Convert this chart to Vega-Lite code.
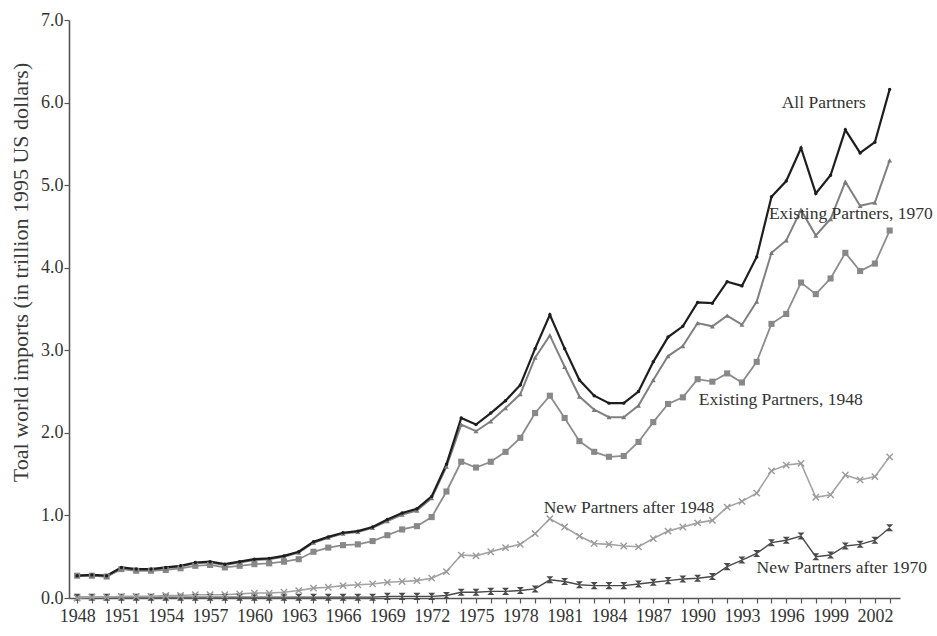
{
  "$schema": "https://vega.github.io/schema/vega-lite/v6.json",
  "width": 831,
  "height": 578,
  "autosize": {"type": "none"},
  "padding": {"left": 69, "top": 20, "right": 37, "bottom": 38},
  "background": "white",
  "config": {"view": {"stroke": null}, "font": "Liberation Serif"},
  "datasets": {
    "imports": [
      {"year":1948,"all":0.27,"e70":0.27,"e48":0.27,"n48":0.00,"n70":0.01},
      {"year":1949,"all":0.28,"e70":0.27,"e48":0.27,"n48":0.01,"n70":0.01},
      {"year":1950,"all":0.27,"e70":0.26,"e48":0.26,"n48":0.01,"n70":0.01},
      {"year":1951,"all":0.37,"e70":0.36,"e48":0.35,"n48":0.02,"n70":0.01},
      {"year":1952,"all":0.35,"e70":0.34,"e48":0.33,"n48":0.02,"n70":0.01},
      {"year":1953,"all":0.35,"e70":0.34,"e48":0.33,"n48":0.02,"n70":0.01},
      {"year":1954,"all":0.37,"e70":0.36,"e48":0.34,"n48":0.03,"n70":0.01},
      {"year":1955,"all":0.39,"e70":0.38,"e48":0.36,"n48":0.03,"n70":0.01},
      {"year":1956,"all":0.43,"e70":0.42,"e48":0.39,"n48":0.04,"n70":0.01},
      {"year":1957,"all":0.44,"e70":0.43,"e48":0.40,"n48":0.04,"n70":0.01},
      {"year":1958,"all":0.41,"e70":0.40,"e48":0.37,"n48":0.04,"n70":0.01},
      {"year":1959,"all":0.44,"e70":0.43,"e48":0.39,"n48":0.05,"n70":0.01},
      {"year":1960,"all":0.47,"e70":0.46,"e48":0.41,"n48":0.06,"n70":0.01},
      {"year":1961,"all":0.48,"e70":0.47,"e48":0.42,"n48":0.06,"n70":0.01},
      {"year":1962,"all":0.51,"e70":0.50,"e48":0.44,"n48":0.07,"n70":0.01},
      {"year":1963,"all":0.56,"e70":0.55,"e48":0.47,"n48":0.09,"n70":0.01},
      {"year":1964,"all":0.68,"e70":0.67,"e48":0.56,"n48":0.12,"n70":0.01},
      {"year":1965,"all":0.74,"e70":0.73,"e48":0.61,"n48":0.13,"n70":0.01},
      {"year":1966,"all":0.79,"e70":0.78,"e48":0.64,"n48":0.15,"n70":0.01},
      {"year":1967,"all":0.81,"e70":0.80,"e48":0.65,"n48":0.16,"n70":0.01},
      {"year":1968,"all":0.86,"e70":0.85,"e48":0.69,"n48":0.17,"n70":0.01},
      {"year":1969,"all":0.95,"e70":0.93,"e48":0.76,"n48":0.19,"n70":0.02},
      {"year":1970,"all":1.03,"e70":1.01,"e48":0.83,"n48":0.20,"n70":0.02},
      {"year":1971,"all":1.08,"e70":1.06,"e48":0.87,"n48":0.21,"n70":0.02},
      {"year":1972,"all":1.23,"e70":1.21,"e48":0.98,"n48":0.24,"n70":0.02},
      {"year":1973,"all":1.62,"e70":1.59,"e48":1.29,"n48":0.32,"n70":0.03},
      {"year":1974,"all":2.18,"e70":2.10,"e48":1.65,"n48":0.52,"n70":0.07},
      {"year":1975,"all":2.10,"e70":2.02,"e48":1.58,"n48":0.51,"n70":0.07},
      {"year":1976,"all":2.24,"e70":2.14,"e48":1.65,"n48":0.56,"n70":0.08},
      {"year":1977,"all":2.39,"e70":2.30,"e48":1.77,"n48":0.61,"n70":0.08},
      {"year":1978,"all":2.58,"e70":2.47,"e48":1.94,"n48":0.65,"n70":0.09},
      {"year":1979,"all":3.02,"e70":2.91,"e48":2.24,"n48":0.78,"n70":0.11},
      {"year":1980,"all":3.43,"e70":3.18,"e48":2.45,"n48":0.96,"n70":0.22},
      {"year":1981,"all":3.02,"e70":2.80,"e48":2.18,"n48":0.86,"n70":0.20},
      {"year":1982,"all":2.64,"e70":2.44,"e48":1.90,"n48":0.75,"n70":0.16},
      {"year":1983,"all":2.45,"e70":2.28,"e48":1.77,"n48":0.66,"n70":0.15},
      {"year":1984,"all":2.36,"e70":2.19,"e48":1.71,"n48":0.65,"n70":0.15},
      {"year":1985,"all":2.36,"e70":2.19,"e48":1.72,"n48":0.63,"n70":0.15},
      {"year":1986,"all":2.50,"e70":2.33,"e48":1.89,"n48":0.62,"n70":0.17},
      {"year":1987,"all":2.86,"e70":2.64,"e48":2.13,"n48":0.72,"n70":0.19},
      {"year":1988,"all":3.16,"e70":2.93,"e48":2.35,"n48":0.81,"n70":0.21},
      {"year":1989,"all":3.29,"e70":3.05,"e48":2.43,"n48":0.86,"n70":0.23},
      {"year":1990,"all":3.58,"e70":3.33,"e48":2.65,"n48":0.91,"n70":0.24},
      {"year":1991,"all":3.57,"e70":3.29,"e48":2.62,"n48":0.94,"n70":0.26},
      {"year":1992,"all":3.83,"e70":3.42,"e48":2.72,"n48":1.10,"n70":0.38},
      {"year":1993,"all":3.78,"e70":3.31,"e48":2.61,"n48":1.17,"n70":0.46},
      {"year":1994,"all":4.13,"e70":3.59,"e48":2.86,"n48":1.27,"n70":0.54},
      {"year":1995,"all":4.86,"e70":4.18,"e48":3.32,"n48":1.54,"n70":0.67},
      {"year":1996,"all":5.05,"e70":4.33,"e48":3.44,"n48":1.61,"n70":0.70},
      {"year":1997,"all":5.45,"e70":4.70,"e48":3.82,"n48":1.63,"n70":0.75},
      {"year":1998,"all":4.90,"e70":4.39,"e48":3.68,"n48":1.22,"n70":0.50},
      {"year":1999,"all":5.12,"e70":4.59,"e48":3.87,"n48":1.25,"n70":0.52},
      {"year":2000,"all":5.67,"e70":5.04,"e48":4.18,"n48":1.49,"n70":0.63},
      {"year":2001,"all":5.39,"e70":4.75,"e48":3.96,"n48":1.43,"n70":0.65},
      {"year":2002,"all":5.52,"e70":4.79,"e48":4.05,"n48":1.47,"n70":0.70},
      {"year":2003,"all":6.16,"e70":5.30,"e48":4.45,"n48":1.71,"n70":0.85}
    ],
    "labels": [
      {"label":"All Partners","year":1998.54,"value":5.99},
      {"label":"Existing Partners, 1970","year":2000.37,"value":4.65},
      {"label":"Existing Partners, 1948","year":1995.63,"value":2.40},
      {"label":"New Partners after 1948","year":1985.35,"value":1.09},
      {"label":"New Partners after 1970","year":1999.76,"value":0.36}
    ]
  },
  "encoding": {
    "x": {"field": "year", "type": "quantitative",
      "scale": {"domain": [1947.45, 2003.7], "nice": false, "zero": false},
      "axis": {"title": null, "grid": false,
        "values": [1948,1949,1950,1951,1952,1953,1954,1955,1956,1957,1958,1959,1960,1961,1962,1963,1964,1965,1966,1967,1968,1969,1970,1971,1972,1973,1974,1975,1976,1977,1978,1979,1980,1981,1982,1983,1984,1985,1986,1987,1988,1989,1990,1991,1992,1993,1994,1995,1996,1997,1998,1999,2000,2001,2002,2003],
        "format": "d", "labelExpr": "(datum.value - 1948) % 3 == 0 ? datum.label : ''",
        "labelOverlap": false, "labelBound": false, "labelFlush": false,
        "labelFont": "Liberation Serif", "labelFontSize": 18, "labelColor": "#333333", "labelPadding": 4,
        "tickSize": 5, "tickColor": "#555555", "tickWidth": 1.2,
        "domainColor": "#555555", "domainWidth": 1.6}
    },
    "y": {"field": "value", "type": "quantitative",
      "scale": {"domain": [0, 7], "nice": false},
      "axis": {"title": "Toal world imports (in trillion 1995 US dollars)", "grid": false,
        "values": [0,1,2,3,4,5,6,7], "format": ".1f",
        "labelFont": "Liberation Serif", "labelFontSize": 18, "labelColor": "#333333", "labelPadding": 1,
        "tickSize": 5, "tickColor": "#555555", "tickWidth": 1.2,
        "domainColor": "#555555", "domainWidth": 1.6,
        "titleFont": "Liberation Serif", "titleFontSize": 22, "titleFontWeight": "normal", "titleColor": "#3a3a3a", "titlePadding": 8, "titleY": 252}
    }
  },
  "layer": [
    {
      "data": {"name": "imports"},
      "transform": [{"fold": ["n70", "n48", "e48", "e70", "all"], "as": ["series", "value"]}],
      "layer": [
        {
          "mark": {"type": "line", "clip": false},
          "encoding": {
            "detail": {"field": "series"},
            "stroke": {"field": "series", "type": "nominal", "legend": null,
              "scale": {"domain": ["all", "e70", "e48", "n48", "n70"], "range": ["#1e1e1e", "#808080", "#8c8c8c", "#a3a3a3", "#4a4a4a"]}},
            "strokeWidth": {"field": "series", "type": "nominal", "legend": null,
              "scale": {"domain": ["all", "e70", "e48", "n48", "n70"], "range": [2.2, 1.4, 1.4, 1.3, 1.6]}},
            "order": {"field": "year", "type": "quantitative"}
          }
        },
        {
          "transform": [{"filter": "datum.series != 'n48'"}],
          "mark": {"type": "point", "filled": true, "opacity": 1, "clip": false},
          "encoding": {
            "shape": {"field": "series", "type": "nominal", "legend": null,
              "scale": {"domain": ["all", "e70", "e48", "n70"], "range": ["circle", "triangle-up", "square", "M-1,-1L1,-1L-1,1L1,1Z"]}},
            "color": {"field": "series", "type": "nominal", "legend": null,
              "scale": {"domain": ["all", "e70", "e48", "n70"], "range": ["#1e1e1e", "#7a7a7a", "#888888", "#4a4a4a"]}},
            "size": {"field": "series", "type": "nominal", "legend": null,
              "scale": {"domain": ["all", "e70", "e48", "n70"], "range": [12, 50, 40, 36]}}
          }
        },
        {
          "transform": [{"filter": "datum.series == 'n48'"}],
          "mark": {"type": "point", "filled": false, "opacity": 1, "clip": false, "shape": "M-1,-1L1,1M1,-1L-1,1", "size": 40, "stroke": "#9a9a9a", "strokeWidth": 1.4}
        }
      ]
    },
    {
      "data": {"name": "labels"},
      "mark": {"type": "text", "font": "Liberation Serif", "fontSize": 17.5, "color": "#333333", "align": "center", "baseline": "middle"},
      "encoding": {
        "text": {"field": "label"}
      }
    }
  ]
}
